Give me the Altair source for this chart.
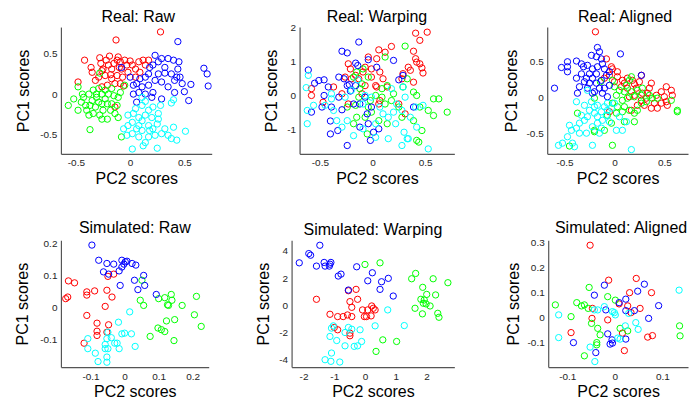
import altair as alt
import pandas as pd

FONT = "Liberation Sans"
COLORS = ["#ff0000", "#00ff00", "#0000ff", "#00ffff"]
CLASSES = ["r", "g", "b", "c"]

# ---------------- Real: Raw ----------------
RAW_RED = [(0.28,0.77),(-0.13,0.67),(-0.42,0.42),(-0.36,0.33),(-0.28,0.45),(-0.27,0.38),(-0.19,0.47),(-0.48,0.15),(-0.20,0.36),(-0.17,0.31),(-0.23,0.23),(-0.29,0.21),(-0.12,0.42),(-0.09,0.40),(-0.08,0.31),(-0.03,0.36),(-0.12,0.23),(-0.17,0.19),(-0.21,0.11),(-0.09,0.13),(-0.06,0.10),(-0.14,-0.16),(0.08,0.40),(0.12,0.42),(0.17,0.42),(0.05,0.31),(0.02,0.36),(0.05,0.21),(-0.02,0.27),(-0.25,0.31),(-0.32,0.17),(-0.35,0.27),(-0.10,0.33),(-0.15,0.38),(-0.07,0.21),(-0.18,0.24),(-0.26,0.29),(-0.11,0.46),(-0.05,0.42),(0.09,0.27),(-0.26,0.09),(-0.14,0.13),(-0.22,0.42),(0.00,0.41),(0.14,0.36)]
RAW_GREEN = [(-0.57,-0.14),(-0.48,0.09),(-0.37,-0.44),(-0.08,-0.53),(-0.48,-0.20),(-0.41,-0.14),(-0.43,-0.04),(-0.38,0.00),(-0.34,0.05),(-0.29,0.07),(-0.26,0.00),(-0.31,-0.04),(-0.35,-0.08),(-0.40,-0.20),(-0.32,-0.16),(-0.26,-0.12),(-0.23,-0.06),(-0.20,0.00),(-0.15,-0.02),(-0.11,-0.04),(-0.18,-0.20),(-0.21,-0.31),(-0.28,-0.26),(-0.11,-0.29),(-0.05,0.11),(-0.28,0.26),(-0.45,-0.10),(-0.37,-0.14),(-0.25,-0.20),(-0.17,-0.12),(-0.12,-0.14),(-0.29,-0.10),(-0.34,-0.24),(-0.14,-0.24),(-0.23,0.05),(-0.17,0.07),(-0.38,-0.26),(-0.31,0.00),(-0.21,-0.12),(-0.52,-0.06),(-0.09,0.02),(-0.26,-0.31),(-0.44,0.00)]
RAW_BLUE = [(0.44,0.65),(0.68,0.32),(0.71,0.25),(0.72,0.10),(0.56,0.12),(0.54,-0.08),(0.50,0.03),(0.41,0.02),(0.23,0.48),(0.29,0.44),(0.35,0.44),(0.40,0.42),(0.44,0.31),(0.46,0.21),(0.43,0.21),(0.38,0.25),(0.32,0.26),(0.26,0.25),(0.21,0.36),(0.18,0.33),(0.17,0.25),(0.14,0.21),(0.09,0.19),(0.06,0.13),(0.03,0.11),(0.11,0.09),(0.17,0.11),(0.23,0.17),(0.29,0.15),(0.35,0.09),(0.21,0.02),(0.14,0.00),(0.08,0.02),(0.03,0.00),(0.29,-0.06),(0.48,0.13),(0.41,0.17),(0.26,0.40),(0.32,0.33),(-0.08,0.33),(0.06,-0.10),(0.00,0.21),(0.20,-0.04),(0.45,0.40)]
RAW_CYAN = [(0.02,-0.68),(0.25,-0.67),(0.12,-0.64),(0.14,-0.60),(0.08,-0.53),(-0.03,-0.51),(0.02,-0.49),(0.11,-0.45),(0.18,-0.45),(0.23,-0.51),(0.29,-0.49),(0.35,-0.51),(0.38,-0.55),(0.43,-0.57),(0.51,-0.46),(0.40,-0.41),(0.32,-0.43),(0.25,-0.37),(0.17,-0.39),(0.08,-0.39),(0.02,-0.35),(-0.02,-0.26),(0.03,-0.24),(0.08,-0.29),(0.14,-0.26),(0.20,-0.29),(0.26,-0.31),(0.17,-0.20),(0.21,-0.16),(0.28,-0.14),(0.38,-0.11),(0.40,-0.07),(0.11,-0.14),(0.05,-0.18),(0.14,-0.09),(0.11,-0.04),(0.11,-0.33),(0.21,-0.43),(0.06,-0.43),(-0.06,-0.43),(-0.02,-0.39),(0.17,-0.53),(0.26,-0.24)]

# ---------------- Real: Warping ----------------
WARP_RED = [(0.41,1.83),(0.52,1.86),(0.45,1.62),(0.18,1.44),(0.39,1.30),(0.06,1.34),(-0.04,1.13),(0.04,1.08),(0.41,1.08),(0.42,0.98),(0.45,0.93),(0.47,0.81),(0.34,0.83),(0.36,0.74),(0.29,0.64),(0.28,0.49),(0.39,0.39),(0.48,0.66),(-0.23,0.93),(-0.21,0.78),(-0.16,0.59),(-0.13,0.49),(-0.09,0.69),(-0.07,0.83),(-0.01,0.78),(0.07,0.69),(0.10,0.49),(0.03,0.29),(0.04,0.25),(0.14,0.25),(-0.01,0.54),(-0.07,0.29),(-0.58,0.20),(-0.58,0.00),(-0.47,-0.20),(-0.37,0.25),(-0.29,0.05),(-0.23,-0.25),(-0.26,0.54),(0.07,-0.15),(0.06,-0.25),(0.31,-0.54),(0.25,-0.25),(0.12,1.27),(-0.20,0.49),(-0.10,0.05)]
WARP_GREEN = [(0.31,1.45),(0.12,1.13),(-0.09,0.78),(-0.15,0.69),(-0.18,0.54),(-0.10,0.34),(-0.04,0.54),(-0.12,0.20),(0.14,0.29),(0.09,-0.05),(0.03,0.00),(0.12,-0.25),(-0.01,-0.49),(-0.07,-0.64),(-0.15,-0.64),(-0.18,-0.83),(-0.05,-1.13),(0.06,-0.74),(0.18,-0.15),(0.29,0.25),(0.33,0.49),(0.39,0.10),(0.42,0.00),(0.45,-0.34),(0.53,-0.44),(0.58,-0.59),(0.58,-0.10),(0.63,-0.10),(0.71,-0.49),(0.47,-1.03),(0.42,-1.32),(0.44,-1.37),(0.39,-0.74),(0.25,-0.34),(0.20,0.05),(0.09,0.20),(-0.16,-0.29),(-0.24,-0.34),(-0.13,-0.05),(-0.02,-0.15),(0.28,-0.64),(0.14,-0.83),(-0.04,-0.34)]
WARP_BLUE = [(-0.13,1.57),(-0.29,1.30),(-0.24,1.25),(-0.16,0.95),(-0.14,0.88),(-0.04,1.05),(0.04,0.83),(-0.61,0.75),(-0.55,0.36),(-0.51,0.44),(-0.46,0.46),(-0.42,0.25),(-0.32,0.54),(-0.27,0.49),(-0.22,0.32),(-0.16,0.29),(-0.32,-0.05),(-0.39,-0.34),(-0.58,-0.49),(-0.48,-0.34),(-0.40,-0.75),(-0.40,-1.13),(-0.33,-1.03),(-0.24,-1.47),(-0.12,-0.93),(-0.02,-1.32),(0.01,-1.08),(-0.04,-0.83),(-0.12,-0.25),(-0.07,-0.05),(0.25,0.46),(0.29,0.59),(0.39,-0.34),(0.20,1.03),(-0.18,-0.25),(-0.29,-0.42),(-0.05,-0.54),(0.06,-0.98),(-0.21,0.13),(-0.46,0.00),(-0.24,0.29),(-0.01,-0.34)]
WARP_CYAN = [(-0.61,0.59),(-0.63,0.23),(-0.62,-0.44),(-0.62,-0.83),(-0.56,-0.29),(-0.45,-0.29),(-0.39,0.05),(-0.37,-0.44),(-0.34,-0.74),(-0.24,-0.74),(-0.29,-0.93),(-0.18,-1.18),(-0.09,-0.98),(0.03,-1.23),(0.15,-1.27),(0.28,-1.47),(0.33,-1.27),(0.30,-1.08),(0.22,-0.83),(0.15,-0.64),(0.28,-0.44),(0.36,-0.64),(0.41,-0.34),(0.48,-0.29),(0.42,-0.93),(0.53,-1.57),(0.23,-0.25),(0.29,0.25),(0.18,0.20),(0.07,-0.34),(-0.01,-0.05),(-0.07,0.00),(-0.09,-0.25),(-0.26,-0.05),(-0.20,0.15),(-0.14,0.46),(0.10,-0.54),(0.03,-0.83),(-0.39,-0.10),(0.34,-1.27),(0.31,-0.05),(0.20,-0.49)]

# ---------------- Real: Aligned ----------------
ALIGN_RED = [(-0.19,0.92),(-0.08,0.54),(-0.03,0.43),(-0.05,0.31),(0.03,0.29),(0.08,0.24),(0.13,0.27),(0.27,0.31),(0.37,0.20),(0.20,0.19),(0.07,0.15),(0.13,0.13),(0.22,0.13),(0.28,0.06),(0.33,0.06),(0.20,0.03),(0.15,0.01),(0.42,0.03),(0.47,0.08),(0.52,0.15),(0.57,0.10),(0.58,0.03),(0.52,-0.06),(0.47,-0.08),(0.40,-0.08),(0.37,-0.15),(0.43,-0.15),(0.30,-0.11),(0.23,-0.11),(0.17,-0.18),(-0.05,-0.20),(0.80,-0.15),(0.53,-0.11),(0.32,-0.01),(0.00,0.22),(0.10,0.20),(-0.10,0.27),(0.25,0.22),(0.18,0.24),(0.03,0.36),(-0.02,0.40),(0.27,-0.04),(0.35,0.13),(0.50,0.01)]
ALIGN_GREEN = [(-0.14,0.22),(-0.02,0.24),(0.17,0.29),(0.15,0.24),(0.05,0.10),(0.10,0.08),(0.17,0.08),(0.23,0.10),(0.28,0.13),(0.20,0.01),(0.13,-0.01),(0.08,-0.04),(0.02,0.03),(-0.02,-0.08),(0.03,-0.13),(0.10,-0.13),(0.15,-0.18),(0.08,-0.20),(0.02,-0.22),(-0.07,-0.25),(0.20,-0.22),(0.20,-0.34),(0.10,-0.34),(-0.03,-0.36),(-0.20,-0.01),(-0.37,-0.22),(-0.20,-0.46),(-0.20,-0.48),(-0.10,-0.46),(-0.02,-0.67),(-0.45,-0.68),(0.38,-0.01),(0.43,-0.01),(0.57,-0.04),(0.63,-0.18),(0.63,-0.20),(0.32,-0.06),(0.27,-0.08),(0.35,0.03),(0.27,0.03),(0.00,0.15),(0.12,0.17),(0.23,-0.18)]
ALIGN_BLUE = [(-0.17,0.70),(0.06,0.61),(-0.38,0.51),(-0.47,0.50),(-0.53,0.42),(-0.47,0.43),(-0.47,0.36),(-0.60,0.13),(-0.38,0.27),(-0.35,0.15),(-0.37,0.06),(-0.31,0.43),(-0.27,0.45),(-0.25,0.33),(-0.28,0.27),(-0.22,0.40),(-0.18,0.57),(-0.13,0.54),(-0.12,0.47),(-0.17,0.43),(-0.18,0.33),(-0.22,0.27),(-0.18,0.20),(-0.13,0.24),(-0.15,0.13),(-0.20,0.08),(-0.10,0.13),(-0.12,0.06),(-0.07,0.01),(-0.05,0.17),(0.27,0.31),(-0.33,0.33),(-0.10,0.40),(-0.25,0.20),(-0.15,0.64),(-0.23,0.59),(-0.27,0.13),(-0.08,0.31),(-0.33,0.47),(-0.22,0.06),(-0.30,0.22),(-0.05,0.36)]
ALIGN_CYAN = [(-0.56,-0.67),(-0.47,-0.55),(-0.42,-0.64),(-0.40,-0.69),(-0.22,-0.67),(0.17,-0.73),(-0.45,-0.39),(-0.43,-0.46),(-0.38,-0.43),(-0.35,-0.36),(-0.30,-0.32),(-0.28,-0.50),(-0.22,-0.41),(-0.17,-0.36),(-0.13,-0.43),(-0.38,-0.06),(-0.30,-0.11),(-0.25,-0.18),(-0.20,-0.22),(-0.17,-0.27),(-0.13,-0.20),(-0.10,-0.13),(-0.07,-0.08),(-0.03,-0.15),(-0.08,-0.25),(-0.12,-0.32),(0.02,-0.46),(0.08,-0.46),(0.12,-0.34),(0.05,-0.27),(0.00,-0.08),(-0.27,0.10),(-0.20,-0.13),(-0.27,-0.27),(-0.33,-0.25),(-0.17,-0.11),(-0.23,-0.06),(-0.05,-0.34),(-0.35,-0.50),(-0.15,-0.50),(-0.07,-0.18),(-0.52,-0.64)]

# ---------------- Simulated: Raw ----------------
SRAW_RED = [(-0.165,0.083),(-0.147,0.077),(-0.167,0.033),(-0.173,0.028),(-0.111,0.049),(-0.111,0.039),(-0.088,0.052),(-0.052,0.054),(-0.037,0.033),(-0.057,0.004),(-0.049,0.097),(-0.032,0.104),(-0.111,-0.024),(-0.081,-0.048),(-0.081,-0.073),(-0.081,-0.086),(-0.047,-0.053),(-0.052,-0.076),(-0.119,-0.110)]
SRAW_GREEN = [(0.051,0.085),(0.046,0.023),(0.056,0.007),(0.100,0.028),(0.118,0.031),(0.137,0.041),(0.139,0.023),(0.126,0.009),(0.129,0.007),(0.169,0.007),(0.211,0.035),(0.205,-0.022),(0.225,-0.058),(0.147,-0.037),(0.123,-0.041),(0.098,-0.063),(0.108,-0.068),(0.118,-0.074),(0.145,-0.102),(0.075,-0.089)]
SRAW_BLUE = [(-0.096,0.194),(-0.076,0.147),(-0.052,0.137),(-0.032,0.135),(-0.062,0.111),(-0.047,0.104),(-0.008,0.147),(0.002,0.142),(0.007,0.144),(0.022,0.137),(0.033,0.132),(-0.016,0.114),(-0.008,0.126),(-0.002,0.135),(0.056,0.100),(0.029,0.085),(0.059,0.069),(0.039,0.056),(0.093,0.041),(-0.013,0.069)]
SRAW_CYAN = [(0.015,-0.013),(-0.018,-0.045),(-0.008,-0.081),(0.000,-0.079),(0.020,-0.081),(0.031,-0.120),(-0.108,-0.096),(-0.108,-0.127),(-0.086,-0.141),(-0.078,-0.167),(-0.052,-0.096),(-0.039,-0.093),(-0.029,-0.110),(-0.022,-0.110),(-0.016,-0.127),(-0.057,-0.114),(-0.049,-0.127),(-0.057,-0.127),(-0.052,-0.153),(-0.052,-0.169),(-0.049,-0.076)]

# ---------------- Simulated: Warping ----------------
SWARP_RED = [(-1.58,0.44),(-0.29,1.17),(-0.54,1.07),(-0.49,0.27),(-0.24,0.44),(-0.43,-0.15),(-0.57,-0.71),(-0.43,-0.83),(-0.71,-0.83),(-0.89,-0.83),(-1.14,-0.66),(-0.08,-0.34),(0.09,-0.34),(0.27,-0.22),(0.22,-0.05),(0.33,-0.34),(0.05,-0.83),(0.20,-0.78),(-0.02,-0.83),(-1.00,-1.63),(-0.89,-1.80),(-0.49,-2.05),(-0.49,-2.24)]
SWARP_GREEN = [(0.00,3.00),(0.49,3.12),(1.52,1.95),(1.65,2.34),(2.22,1.95),(2.70,1.66),(1.88,1.32),(2.01,0.80),(2.30,0.76),(1.82,0.44),(1.93,0.39),(1.90,0.15),(2.12,-0.05),(1.63,-0.22),(1.99,0.10),(1.87,-0.63),(2.37,-0.59),(2.41,-0.88),(0.58,-2.54),(1.03,-2.66),(0.36,-3.39)]
SWARP_BLUE = [(-2.14,3.12),(-1.83,3.80),(-1.77,3.68),(-1.47,4.41),(-1.58,2.88),(-1.33,3.15),(-1.30,2.88),(-1.16,2.88),(-1.11,3.15),(-1.14,3.02),(-0.87,2.15),(-0.78,2.29),(-0.27,2.83),(-0.54,1.12),(0.09,1.80),(0.24,2.39),(0.54,1.73),(0.76,1.98),(0.49,1.17),(0.92,0.68)]
SWARP_CYAN = [(-1.03,-1.51),(-1.09,-1.68),(-1.14,-2.29),(-0.92,-2.59),(-0.54,-1.63),(-0.43,-1.76),(-0.65,-2.00),(-0.16,-1.80),(0.33,-1.51),(0.74,-0.34),(1.28,-1.49),(-0.65,-2.98),(-0.35,-3.02),(-0.24,-2.98),(-0.11,-2.66),(-1.09,-3.51),(-1.30,-4.00),(-1.11,-4.12),(-0.82,-4.17)]

# ---------------- Simulated: Aligned ----------------
SALIGN_RED = [(-0.052,0.290),(-0.013,0.150),(0.045,0.157),(0.031,0.100),(0.077,0.100),(0.009,0.055),(0.027,0.047),(0.053,0.037),(-0.047,0.037),(-0.048,-0.003),(-0.015,-0.009),(-0.092,-0.060),(0.016,-0.062),(0.020,-0.132),(0.069,-0.078),(0.079,-0.072),(0.170,-0.082),(0.034,0.020)]
SALIGN_GREEN = [(-0.125,0.051),(-0.092,0.004),(-0.080,0.060),(-0.070,0.047),(-0.064,0.051),(-0.056,0.037),(-0.054,0.121),(-0.015,0.084),(0.001,0.070),(-0.049,-0.023),(-0.036,-0.043),(-0.031,-0.069),(-0.038,-0.100),(-0.038,-0.109),(-0.064,-0.153),(0.011,-0.043),(0.027,-0.053),(0.136,-0.033),(0.137,-0.073)]
SALIGN_BLUE = [(-0.022,0.130),(-0.043,0.090),(0.023,0.074),(0.048,0.106),(0.062,0.134),(0.092,0.048),(0.009,0.060),(-0.019,0.031),(0.023,0.028),(0.041,0.028),(0.071,-0.003),(-0.087,-0.100),(-0.015,-0.065),(-0.010,-0.106),(-0.005,-0.102),(0.023,-0.086),(-0.040,-0.140),(-0.006,-0.089)]
SALIGN_CYAN = [(-0.118,0.011),(-0.118,-0.080),(-0.052,-0.118),(-0.042,-0.176),(-0.043,0.031),(-0.036,0.031),(-0.022,0.044),(-0.005,0.024),(0.001,0.011),(-0.001,0.020),(0.006,-0.082),(0.011,-0.086),(0.022,-0.033),(0.044,-0.020),(0.049,-0.047),(0.029,0.017),(0.135,0.110),(0.165,-0.105)]

TITLES = ["Real: Raw", "Real: Warping", "Real: Aligned",
          "Simulated: Raw", "Simulated: Warping", "Simulated: Aligned"]
X_TICKS = [[-0.5, 0, 0.5], [-0.5, 0, 0.5], [-0.5, 0, 0.5],
           [-0.1, 0, 0.1, 0.2], [-2, -1, 0, 1, 2], [-0.1, 0, 0.1]]
Y_TICKS = [[-0.5, 0, 0.5], [-1, 0, 1, 2], [-0.5, 0, 0.5],
           [-0.1, 0, 0.1, 0.2], [-4, -2, 0, 2, 4], [-0.1, 0, 0.1, 0.2, 0.3]]
X_DOMAINS = [[-0.638, 0.752], [-0.693, 0.778], [-0.673, 0.737],
             [-0.187, 0.247], [-2.39, 2.91], [-0.14, 0.1537]]
Y_DOMAINS = [[-0.74, 0.83], [-1.716, 2.01], [-0.79, 0.986],
             [-0.184, 0.209], [-4.54, 4.78], [-0.198, 0.31]]
WIDTHS = [151, 155, 141, 148, 163, 140]
YTITLE_X = [-32, -23, -31, -33, -23, -30]
TITLE_OFFSETS = [-11.2, -15.9, -11.2, -11.2, -11.2, -11.2]
TITLE_DX = [2, 0, 7.5, 0, 0, 3]
GAPS_TOP = [88, 93]
GAPS_BOTTOM = [83, 94]
PANEL_H = 127
ROW_GAP = 32.5


def frame(groups):
    rows = []
    for cls, pts in zip(CLASSES, groups):
        for x, y in pts:
            rows.append({"x": x, "y": y, "cls": cls})
    return pd.DataFrame(rows)


def panel(i, groups):
    df = frame(groups)
    return alt.Chart(df).mark_point(
        shape="circle", filled=False, size=40, strokeWidth=1, opacity=1, clip=True
    ).encode(
        x=alt.X("x:Q", scale=alt.Scale(domain=X_DOMAINS[i], nice=False, zero=False),
                axis=alt.Axis(title="PC2 scores", values=X_TICKS[i], grid=False,
                              ticks=False, tickSize=0, labelPadding=4,
                              labelExpr="datum.value + ''", titleFontWeight="normal",
                              titleY=29.5, titleBaseline="alphabetic")),
        y=alt.Y("y:Q", scale=alt.Scale(domain=Y_DOMAINS[i], nice=False, zero=False),
                axis=alt.Axis(title="PC1 scores", values=Y_TICKS[i], grid=False,
                              ticks=False, tickSize=0, labelPadding=4,
                              labelExpr="datum.value + ''", titleFontWeight="normal",
                              titleX=YTITLE_X[i], titleBaseline="alphabetic")),
        color=alt.Color("cls:N", scale=alt.Scale(domain=CLASSES, range=COLORS), legend=None),
    ).properties(
        width=WIDTHS[i], height=PANEL_H,
        title=alt.TitleParams(TITLES[i], fontSize=16, font=FONT, fontWeight="normal",
                              color="#000000", offset=TITLE_OFFSETS[i], baseline="alphabetic",
                              anchor="middle", frame="group", dx=TITLE_DX[i]),
    )


def spacer(w):
    return alt.Chart(pd.DataFrame({"v": [0]})).mark_point(opacity=0, size=1).encode(
        x=alt.value(0), y=alt.value(0)
    ).properties(width=w, height=PANEL_H)


panels = [
    panel(0, [RAW_RED, RAW_GREEN, RAW_BLUE, RAW_CYAN]),
    panel(1, [WARP_RED, WARP_GREEN, WARP_BLUE, WARP_CYAN]),
    panel(2, [ALIGN_RED, ALIGN_GREEN, ALIGN_BLUE, ALIGN_CYAN]),
    panel(3, [SRAW_RED, SRAW_GREEN, SRAW_BLUE, SRAW_CYAN]),
    panel(4, [SWARP_RED, SWARP_GREEN, SWARP_BLUE, SWARP_CYAN]),
    panel(5, [SALIGN_RED, SALIGN_GREEN, SALIGN_BLUE, SALIGN_CYAN]),
]

row_top = alt.hconcat(panels[0], spacer(GAPS_TOP[0]), panels[1], spacer(GAPS_TOP[1]), panels[2],
                      spacing=0, bounds="flush")
row_bottom = alt.hconcat(panels[3], spacer(GAPS_BOTTOM[0]), panels[4], spacer(GAPS_BOTTOM[1]), panels[5],
                         spacing=0, bounds="flush")

chart = alt.vconcat(row_top, row_bottom, spacing=ROW_GAP).properties(
    padding={"left": 6, "top": -0.2, "right": 0, "bottom": 0}
).configure_view(
    stroke="transparent"
).configure_axis(
    labelFont=FONT, labelFontSize=10, labelColor="#262626",
    titleFont=FONT, titleFontSize=16, titleColor="#000000", titleFontWeight="normal",
    domainColor="#555555", domainWidth=1.2,
)

chart.save("out.html", embed_options={"renderer": "svg", "actions": False})
